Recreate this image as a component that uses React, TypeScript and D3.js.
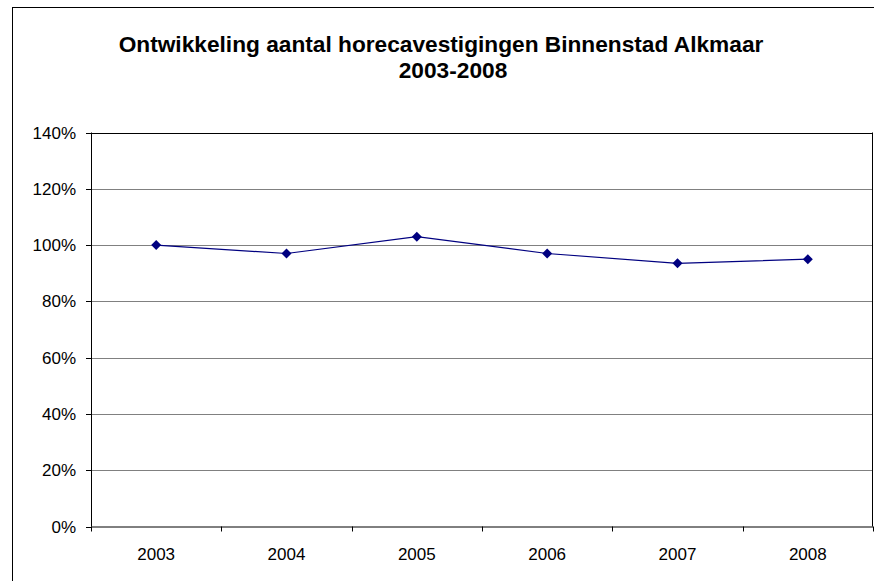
import React from "react";
import * as d3 from "d3";

const years = ["2003", "2004", "2005", "2006", "2007", "2008"];
const values = [100, 97, 103, 97, 93.5, 95];
const yTicks = [0, 20, 40, 60, 80, 100, 120, 140];
const titleLines = ["Ontwikkeling aantal horecavestigingen Binnenstad Alkmaar", "2003-2008"];

export default function App() {
  const W = 874, H = 581;
  const left = 91, right = 873, top = 132.5, bottom = 526.5;
  const x = d3.scaleBand().domain(years).range([left, right]);
  const y = d3.scaleLinear().domain([0, 140]).range([bottom, top]);
  const line = d3.line<number>().x((_, i) => x(years[i])! + x.bandwidth() / 2).y((d) => y(d));
  const font = "Liberation Sans, Arial, sans-serif";
  const boundaries = [...years.map((yr) => x(yr)!), right];
  return (
    <svg width={W} height={H} style={{ position: "absolute", left: 0, top: 0, overflow: "hidden" }} fontFamily={font}>
      <rect x={0} y={0} width={W} height={H} fill="#fff" />
      <rect x={12.5} y={7.5} width={W} height={H} fill="none" stroke="#000" strokeWidth={1} />
      <text x={441} y={51.5} textAnchor="middle" fontWeight="bold" fontSize={22.7}>{titleLines[0]}</text>
      <text x={453} y={77.5} textAnchor="middle" fontWeight="bold" fontSize={22.7}>{titleLines[1]}</text>
      {yTicks.filter((t) => t > 0).map((t) => (
        <line key={t} x1={left} x2={right} y1={Math.round(y(t)) + 0.5} y2={Math.round(y(t)) + 0.5} stroke={t === 140 ? "#000" : "#808080"} strokeWidth={1} />
      ))}
      <line x1={right - 0.5} x2={right - 0.5} y1={top} y2={bottom} stroke="#000" />
      <line x1={left + 0.5} x2={left + 0.5} y1={top} y2={bottom} stroke="#000" />
      <line x1={left} x2={right} y1={bottom + 0.5} y2={bottom + 0.5} stroke="#000" />
      {yTicks.map((t) => (
        <g key={t}>
          <line x1={left - 5} x2={left} y1={Math.round(y(t)) + 0.5} y2={Math.round(y(t)) + 0.5} stroke="#000" />
          <text x={76} y={y(t) + 6} textAnchor="end" fontSize={17}>{t + "%"}</text>
        </g>
      ))}
      {boundaries.map((b, i) => (
        <line key={i} x1={Math.round(b) + 0.5} x2={Math.round(b) + 0.5} y1={bottom} y2={bottom + 5} stroke="#000" />
      ))}
      {years.map((yr) => (
        <text key={yr} x={x(yr)! + x.bandwidth() / 2} y={560} textAnchor="middle" fontSize={17}>{yr}</text>
      ))}
      <path d={line(values)!} fill="none" stroke="#000080" strokeWidth={1.2} />
      {values.map((v, i) => {
        const cx = x(years[i])! + x.bandwidth() / 2, cy = y(v);
        return <path key={i} d={`M${cx},${cy - 5}L${cx + 5},${cy}L${cx},${cy + 5}L${cx - 5},${cy}Z`} fill="#000080" />;
      })}
    </svg>
  );
}
